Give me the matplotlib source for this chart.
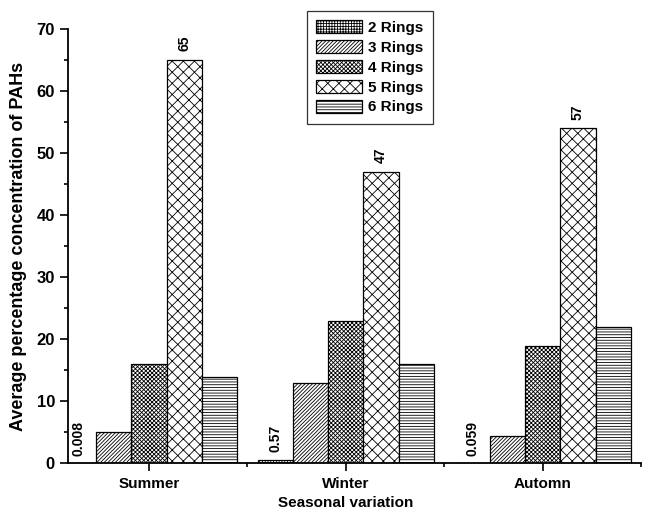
import numpy as np
import matplotlib
matplotlib.use("Agg")
import matplotlib.pyplot as plt

plt.rcParams['font.family'] = ['Liberation Sans', 'DejaVu Sans']
plt.rcParams['font.weight'] = 'bold'
plt.rcParams['hatch.linewidth'] = 0.6

seasons = ["Summer", "Winter", "Automn"]
rings = ["2 Rings", "3 Rings", "4 Rings", "5 Rings", "6 Rings"]
hatches = ["++++++", "/////////", "xxxxxxxx", "xxx", "------"]

# values per ring group, one per season
values = [
    [0.008, 0.57, 0.059],   # 2 rings
    [5.1, 13, 4.4],         # 3 rings
    [16, 23, 19],           # 4 rings
    [65, 47, 54],           # 5 rings
    [14, 16, 22],           # 6 rings
]
# printed labels (2 rings and 5 rings)
labels_2 = ["0.008", "0.57", "0.059"]
labels_5 = ["65", "47", "57"]

fig = plt.figure(figsize=(6.49, 5.11), dpi=100)
ax = fig.add_axes([0.105, 0.093, 0.883, 0.85])

x = np.arange(1, len(seasons) + 1)
w = 0.179
for i, (name, vals, h) in enumerate(zip(rings, values, hatches)):
    pos = x + (i - 2) * w
    ax.bar(pos, vals, w, color="white", edgecolor="black", hatch=h,
           linewidth=0.9, label=name, zorder=2)
    if i == 0:
        for p, v, t in zip(pos, vals, labels_2):
            ax.text(p, v + 1.2, t, rotation=90, ha="center", va="bottom",
                    fontsize=10, fontweight="bold")
    if i == 3:
        for p, v, t in zip(pos, vals, labels_5):
            ax.text(p, v + 1.4, t, rotation=90, ha="center", va="bottom",
                    fontsize=10, fontweight="bold")

ax.set_xlim(0.59, 3.5)
ax.set_ylim(0, 70)
ax.set_xticks(x)
ax.set_xticklabels(seasons, fontsize=11, fontweight="bold")
ax.set_xticks([1.5, 2.5, 3.5], minor=True)
ax.set_yticks(np.arange(0, 71, 10))
ax.set_yticks(np.arange(5, 70, 10), minor=True)
ax.tick_params(axis="both", which="major", direction="out", length=6, width=1.2, labelsize=12)
ax.tick_params(axis="x", which="major", labelsize=11, pad=4)
ax.tick_params(axis="both", which="minor", direction="out", length=3, width=1.2)
for lab in ax.get_yticklabels():
    lab.set_fontweight("bold")

ax.spines["top"].set_visible(False)
ax.spines["right"].set_visible(False)
ax.spines["left"].set_linewidth(1.3)
ax.spines["bottom"].set_linewidth(1.3)

ax.set_xlabel("Seasonal variation", fontsize=11, fontweight="bold")
ax.xaxis.set_label_coords(0.484, -0.074)
ax.set_ylabel("Average percentage concentration of PAHs", fontsize=13, fontweight="bold", labelpad=7)

leg = ax.legend(loc="upper left", bbox_to_anchor=(0.417, 1.042), fontsize=11,
                frameon=True, fancybox=False, edgecolor="black",
                handlelength=3.0, handleheight=0.9, labelspacing=0.35,
                handletextpad=0.4, borderpad=0.6, borderaxespad=0)
leg.get_frame().set_linewidth(0.9)
for t in leg.get_texts():
    t.set_fontweight("bold")

fig.savefig("out.png", dpi=100)
